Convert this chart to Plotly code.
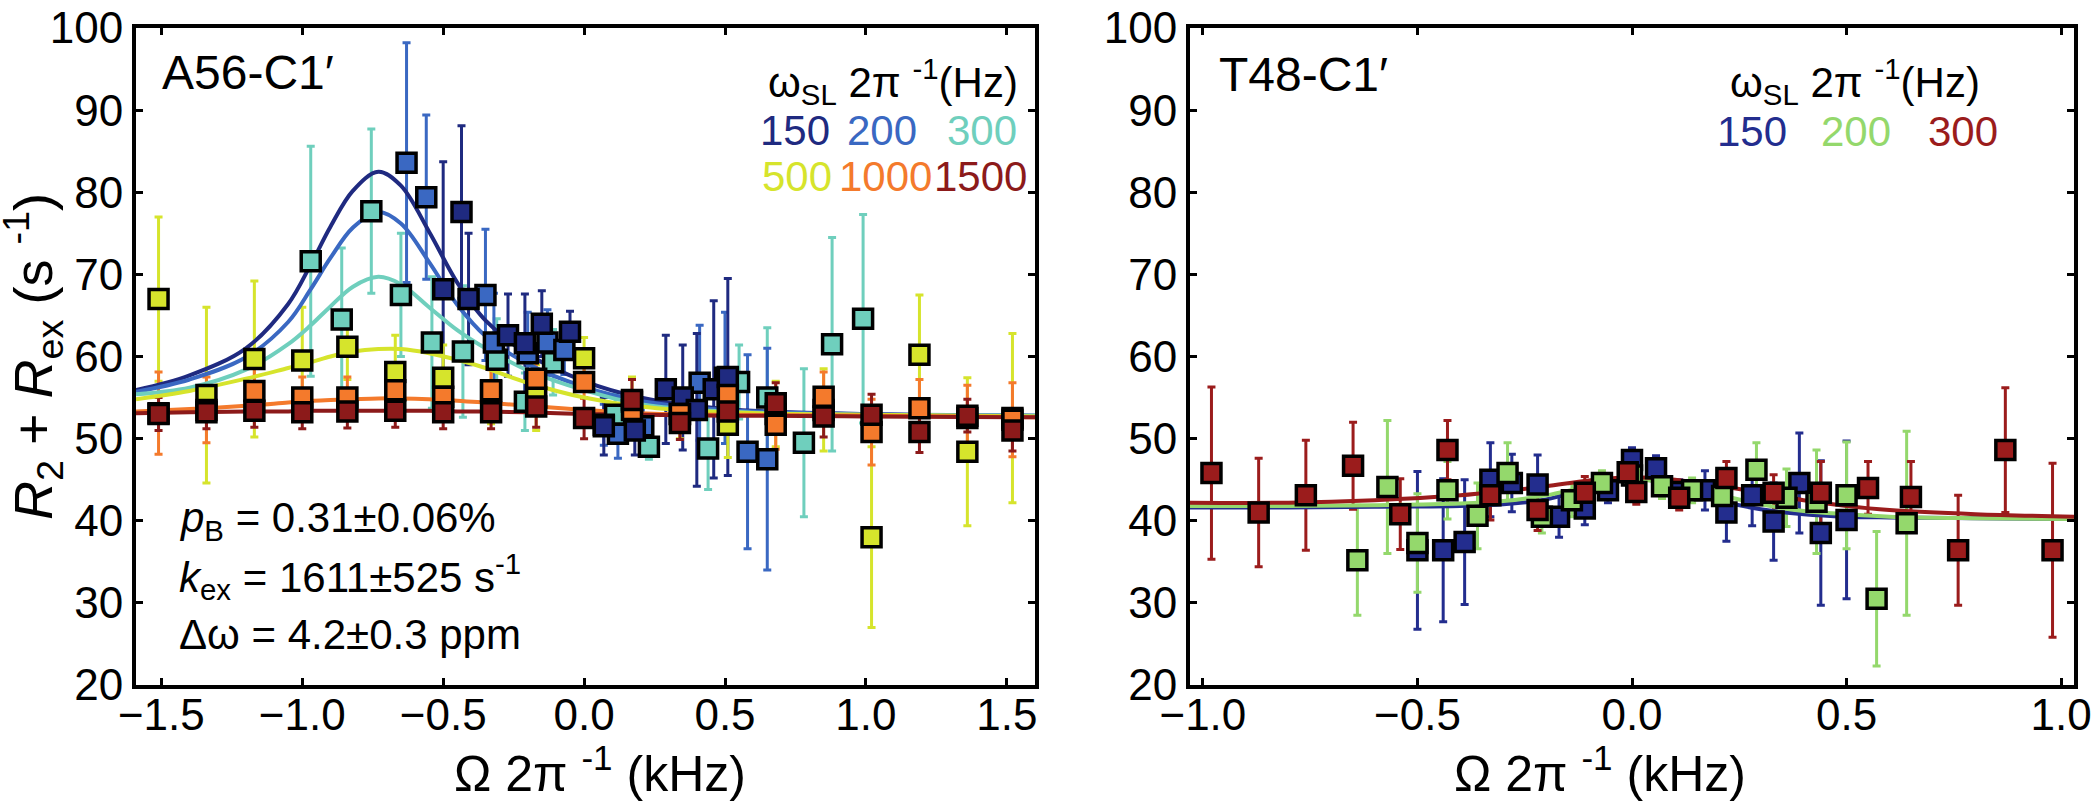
import plotly.graph_objects as go

# ---------------- Left panel: A56-C1' ----------------
A150_x = [-0.50, -0.435, -0.41, -0.27, -0.21, -0.15, -0.05, 0.07, 0.18, 0.29, 0.35, 0.40, 0.46, 0.51]
A150_y = [68.2, 77.6, 67.0, 62.6, 61.6, 64.0, 63.0, 51.5, 51.0, 56.0, 55.0, 53.5, 56.0, 57.5]
A150_e = [15.5, 10.5, 8.0, 5.0, 6.0, 4.0, 2.5, 3.5, 3.0, 6.6, 6.4, 9.3, 10.8, 12.0]

A200_x = [-0.63, -0.56, -0.35, -0.32, -0.20, -0.13, -0.07, 0.07, 0.12, 0.21, 0.41, 0.50, 0.58, 0.65]
A200_y = [83.6, 79.4, 67.5, 61.7, 60.4, 61.7, 60.8, 51.7, 50.6, 51.5, 56.8, 57.4, 48.4, 47.5]
A200_e = [14.6, 10.0, 8.0, 6.0, 5.0, 4.0, 3.0, 2.5, 3.0, 3.0, 7.0, 8.0, 11.8, 13.5]

A300_x = [-0.97, -0.86, -0.755, -0.65, -0.54, -0.43, -0.31, -0.21, -0.11, 0.11, 0.23, 0.44, 0.55, 0.65, 0.78, 0.88, 0.99]
A300_y = [71.6, 64.5, 77.7, 67.5, 61.7, 60.6, 59.6, 54.5, 59.3, 52.9, 49.0, 48.8, 56.9, 55.0, 49.5, 61.5, 64.6]
A300_e = [14.0, 8.7, 10.0, 7.5, 8.0, 8.0, 5.0, 3.5, 4.0, 2.5, 1.5, 5.0, 4.5, 8.5, 9.0, 13.0, 12.7]

A_grid_x = [-1.51, -1.34, -1.17, -1.00, -0.84, -0.67, -0.50, -0.33, -0.17, 0.00,
            0.17, 0.34, 0.51, 0.68, 0.85, 1.02, 1.19, 1.36, 1.52]
A500_y = [67.0, 55.3, 59.7, 59.5, 61.2, 58.1, 57.4, 55.8, 55.0, 59.8,
          54.5, 53.0, 51.7, 53.0, 53.5, 38.0, 60.2, 48.4, 52.5]
A500_e = [10.0, 10.7, 9.5, 6.5, 4.0, 4.5, 4.0, 4.0, 4.0, 2.5,
          3.0, 3.0, 4.0, 4.0, 5.0, 11.0, 7.3, 9.0, 10.3]
A1000_y = [53.1, 53.5, 55.8, 55.0, 55.0, 55.9, 55.1, 55.9, 57.3, 56.9,
           53.5, 53.0, 55.3, 51.7, 55.1, 50.8, 53.7, 52.5, 52.3]
A1000_e = [5.0, 4.0, 3.0, 2.5, 2.5, 2.5, 2.5, 2.5, 2.0, 2.0,
           2.0, 2.0, 3.0, 3.0, 3.0, 4.0, 3.5, 4.0, 4.5]
A1500_y = [53.0, 53.2, 53.4, 53.2, 53.3, 53.4, 53.2, 53.2, 53.9, 52.5,
           54.7, 51.9, 53.3, 54.3, 52.7, 52.9, 50.8, 52.8, 51.0]
A1500_e = [2.0, 2.0, 2.0, 2.0, 2.0, 2.0, 2.0, 2.0, 2.5, 2.5,
           2.5, 2.0, 2.0, 2.5, 2.5, 2.5, 2.5, 2.0, 2.5]

# fitted curves
A_fit_x = [-1.59, -1.4, -1.2, -1.05, -0.97, -0.9, -0.82, -0.73, -0.65, -0.55,
           -0.45, -0.35, -0.2, 0.0, 0.2, 0.5, 1.0, 1.6]
A_fit150 = [55.9, 57.7, 61.0, 66.4, 71.2, 75.8, 80.2, 82.5, 80.8, 75.2,
            69.0, 64.4, 60.3, 57.0, 55.0, 53.6, 53.0, 52.8]
A_fit200 = [55.7, 57.2, 59.9, 64.2, 68.2, 72.0, 75.7, 77.6, 76.2, 71.5,
            66.3, 62.5, 59.1, 56.3, 54.6, 53.5, 53.0, 52.8]
A_fit300 = [55.4, 56.2, 58.4, 61.5, 63.8, 66.1, 68.5, 69.7, 68.8, 66.0,
            63.2, 61.0, 58.3, 55.9, 54.2, 53.3, 52.9, 52.8]
A_fit500 = [54.8, 55.8, 57.3, 58.6, 59.3, 60.0, 60.6, 60.9, 60.9, 60.4,
            59.6, 58.6, 56.8, 55.0, 53.9, 53.2, 52.9, 52.7]
A_fit1000 = [53.3, 53.6, 54.0, 54.4, 54.6, 54.7, 54.8, 54.9, 54.9, 54.8,
             54.6, 54.4, 54.0, 53.5, 53.1, 52.9, 52.8, 52.6]
A_fit1500 = [53.1, 53.2, 53.3, 53.3, 53.4, 53.4, 53.4, 53.4, 53.4, 53.4,
             53.3, 53.3, 53.2, 53.0, 52.9, 52.8, 52.7, 52.6]

# ---------------- Right panel: T48-C1' ----------------
B150_x = [-0.50, -0.44, -0.39, -0.33, -0.28, -0.22, -0.17, -0.11, -0.056, 0.0,
          0.056, 0.11, 0.17, 0.22, 0.28, 0.33, 0.39, 0.44, 0.50]
B150_y = [36.4, 36.4, 37.4, 45.0, 44.6, 44.4, 40.5, 41.5, 43.7, 47.4,
          46.4, 43.5, 43.7, 41.0, 43.1, 39.9, 44.6, 38.5, 40.1]
B150_e = [9.6, 8.7, 7.6, 4.5, 3.5, 3.6, 2.5, 2.0, 1.5, 1.5,
          1.5, 1.5, 2.4, 3.5, 3.7, 4.7, 6.1, 8.8, 9.6]

B200_x = [-0.64, -0.57, -0.50, -0.43, -0.36, -0.29, -0.21, -0.14, -0.07, 0.0,
          0.07, 0.14, 0.21, 0.29, 0.36, 0.43, 0.50, 0.57, 0.64]
B200_y = [35.2, 44.1, 37.3, 43.7, 40.6, 45.8, 40.5, 42.5, 44.6, 45.5,
          44.2, 43.7, 43.0, 46.2, 42.8, 42.3, 43.1, 30.5, 39.7]
B200_e = [6.7, 8.1, 6.0, 3.5, 4.0, 3.7, 2.0, 2.0, 1.5, 1.5,
          1.5, 1.5, 2.0, 3.3, 3.5, 6.3, 6.5, 8.2, 11.2]

B300_x = [-0.98, -0.87, -0.76, -0.65, -0.54, -0.43, -0.33, -0.22, -0.11, -0.01,
          0.01, 0.11, 0.22, 0.33, 0.44, 0.55, 0.65, 0.76, 0.87, 0.98]
B300_y = [45.8, 41.0, 43.1, 46.7, 40.8, 48.6, 43.1, 41.3, 43.4, 45.9,
          43.5, 42.8, 45.2, 43.4, 43.4, 44.0, 42.9, 36.4, 48.6, 36.4]
B300_e = [10.5, 6.6, 6.7, 5.3, 4.3, 3.6, 3.0, 2.5, 2.0, 1.5,
          1.5, 1.5, 2.0, 2.2, 3.8, 3.2, 4.3, 6.7, 7.6, 10.6]

B_fit_x = [-1.03, -0.8, -0.6, -0.4, -0.3, -0.2, -0.1, 0.0, 0.1, 0.2,
           0.3, 0.4, 0.5, 0.6, 0.8, 1.03]
B_fit150 = [41.6, 41.6, 41.7, 41.8, 42.0, 42.6, 44.0, 45.2, 44.2, 42.5,
            41.4, 40.8, 40.5, 40.4, 40.3, 40.2]
B_fit200 = [41.8, 41.8, 41.9, 42.1, 42.4, 43.1, 44.2, 45.0, 44.5, 43.2,
            42.0, 41.2, 40.8, 40.5, 40.3, 40.2]
B_fit300 = [42.2, 42.2, 42.5, 43.1, 43.6, 44.2, 44.9, 45.3, 45.0, 44.3,
            43.4, 42.5, 41.8, 41.3, 40.8, 40.5]

y_ticks = [20, 30, 40, 50, 60, 70, 80, 90, 100]
A_xticks = [-1.5, -1.0, -0.5, 0.0, 0.5, 1.0, 1.5]
B_xticks = [-1.0, -0.5, 0.0, 0.5, 1.0]

# colours
A_col = {"150": "#1f2a80", "200": "#3a68c2", "300": "#6fcfbd",
         "500": "#d6e42c", "1000": "#f47a2c", "1500": "#8c1a1a"}
B_col = {"150": "#232d8e", "200": "#94d86c", "300": "#9b1c1c"}

FONT = "Liberation Sans, Arial, Helvetica, sans-serif"
W, H = 2100, 803
T, B = 28, 118
PLOT_BOTTOM = H - B


def px(x):
    return x / W


def py(y):
    return (PLOT_BOTTOM - y) / (H - T - B)


fig = go.Figure()


def add_err(x, y, e, col, xa, ya):
    fig.add_trace(go.Scatter(
        x=x, y=y, mode="markers", xaxis=xa, yaxis=ya, showlegend=False,
        marker=dict(size=1, color="rgba(0,0,0,0)"),
        error_y=dict(type="data", array=e, color=col, thickness=3, width=4),
        hoverinfo="skip"))


def add_fit(x, y, col, xa, ya):
    fig.add_trace(go.Scatter(
        x=x, y=y, mode="lines", xaxis=xa, yaxis=ya, showlegend=False,
        line=dict(color=col, width=4, shape="spline", smoothing=1.0)))


def add_pts(x, y, col, xa, ya):
    fig.add_trace(go.Scatter(
        x=x, y=y, mode="markers", xaxis=xa, yaxis=ya, showlegend=False,
        marker=dict(symbol="square", size=19, color=col,
                    line=dict(color="black", width=3.5))))


# left panel
A_series = [
    (A300_x, A300_y, A300_e, A_col["300"]),
    (A200_x, A200_y, A200_e, A_col["200"]),
    (A150_x, A150_y, A150_e, A_col["150"]),
    (A_grid_x, A500_y, A500_e, A_col["500"]),
    (A_grid_x, A1000_y, A1000_e, A_col["1000"]),
    (A_grid_x, A1500_y, A1500_e, A_col["1500"]),
]
for x, y, e, c in A_series:
    add_err(x, y, e, c, "x", "y")
for yfit, key in [(A_fit150, "150"), (A_fit200, "200"), (A_fit300, "300"),
                  (A_fit500, "500"), (A_fit1000, "1000"), (A_fit1500, "1500")]:
    add_fit(A_fit_x, yfit, A_col[key], "x", "y")
for x, y, e, c in A_series:
    add_pts(x, y, c, "x", "y")

# right panel
B_series = [
    (B150_x, B150_y, B150_e, B_col["150"]),
    (B200_x, B200_y, B200_e, B_col["200"]),
    (B300_x, B300_y, B300_e, B_col["300"]),
]
for x, y, e, c in B_series:
    add_err(x, y, e, c, "x2", "y2")
for yfit, key in [(B_fit150, "150"), (B_fit200, "200"), (B_fit300, "300")]:
    add_fit(B_fit_x, yfit, B_col[key], "x2", "y2")
for x, y, e, c in B_series:
    add_pts(x, y, c, "x2", "y2")

axis_common = dict(
    showline=True, linecolor="black", linewidth=4, mirror="ticks",
    ticks="inside", ticklen=7, tickwidth=3, tickcolor="black",
    showgrid=False, zeroline=False, automargin=False,
    tickfont=dict(family=FONT, size=44, color="black"),
)

fig.update_layout(
    template="none",
    width=W, height=H,
    margin=dict(l=0, r=0, t=T, b=B, pad=0),
    paper_bgcolor="white", plot_bgcolor="white",
    showlegend=False,
    xaxis=dict(domain=[px(136), px(1035)], range=[-1.59, 1.60],
               tickvals=A_xticks, tickformat=".1f", anchor="y",
               ticklabelstandoff=-12, **axis_common),
    yaxis=dict(domain=[0, 1], range=[20, 100], tickvals=y_ticks,
               anchor="x", **axis_common),
    xaxis2=dict(domain=[px(1190), px(2074)], range=[-1.03, 1.03],
                tickvals=B_xticks, tickformat=".1f", anchor="y2",
                ticklabelstandoff=-12, **axis_common),
    yaxis2=dict(domain=[0, 1], range=[20, 100], tickvals=y_ticks,
                anchor="x2", **axis_common),
)

ann = []


def text(x, y, s, size, color="black", xanchor="left", angle=0):
    ann.append(dict(x=px(x), y=py(y), xref="paper", yref="paper", text=s,
                    showarrow=False, xanchor=xanchor, yanchor="middle",
                    textangle=angle,
                    font=dict(family=FONT, size=size, color=color)))


# panel labels
text(160, 72, "A56-C1′", 48)
text(1217, 74, "T48-C1′", 48)

# legend headers
text(893, 81, "ω<sub>SL</sub> 2π <sup>-1</sup>(Hz)", 42, xanchor="center")
text(1855, 81, "ω<sub>SL</sub> 2π <sup>-1</sup>(Hz)", 42, xanchor="center")

# legend rows, left
text(795, 130, "150", 42, A_col["150"], "center")
text(882, 130, "200", 42, A_col["200"], "center")
text(982, 130, "300", 42, A_col["300"], "center")
text(797, 176, "500", 42, A_col["500"], "center")
text(885, 176, "1000", 42, A_col["1000"], "center")
text(980, 176, "1500", 42, A_col["1500"], "center")

# legend row, right
text(1752, 131, "150", 42, B_col["150"], "center")
text(1856, 131, "200", 42, B_col["200"], "center")
text(1963, 131, "300", 42, B_col["300"], "center")

# fit parameters
text(177, 520, "<i>p</i><sub>B</sub> = 0.31±0.06%", 42)
text(177, 576, "<i>k</i><sub>ex</sub> = 1611±525 s<sup>-1</sup>", 42)
text(177, 634, "Δω = 4.2±0.3 ppm", 42)

# axis titles
text(600, 770, "Ω 2π <sup>-1</sup> (kHz)", 50, xanchor="center")
text(1600, 770, "Ω 2π <sup>-1</sup> (kHz)", 50, xanchor="center")
text(33, 357, "<i>R</i><sub>2</sub> + <i>R</i><sub>ex</sub> (s <sup>-1</sup>)", 54,
     xanchor="center", angle=-90)

fig.update_layout(annotations=ann)

fig.write_html(
    "out.html",
    config={"displayModeBar": False},
    post_script="document.body.style.margin='0px';"
                "document.body.style.overflow='hidden';",
)
